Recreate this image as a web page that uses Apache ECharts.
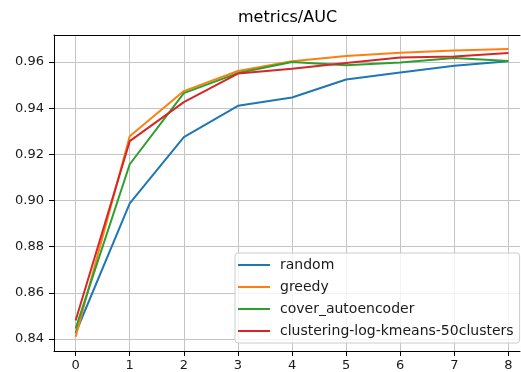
<!DOCTYPE html>
<html>
<head>
<meta charset="utf-8">
<script src="https://cdn.jsdelivr.net/npm/echarts@6/dist/echarts.min.js"></script>
<style>
  html, body { margin: 0; padding: 0; background: #fff; }
  #chart { width: 521px; height: 372px; }
</style>
</head>
<body>
<div id="chart"></div>
<script>
const steps = [0, 1, 2, 3, 4, 5, 6, 7, 8];
const seriesNames = ['random', 'greedy', 'cover_autoencoder', 'clustering-log-kmeans-50clusters'];
const randomAuc = [0.8426, 0.8988, 0.9275, 0.9410, 0.9446, 0.9524, 0.9555, 0.9584, 0.9603];
const greedyAuc = [0.8410, 0.9278, 0.9474, 0.9561, 0.9603, 0.9626, 0.9640, 0.9650, 0.9656];
const coverAuc = [0.8445, 0.9157, 0.9465, 0.9552, 0.9600, 0.9586, 0.9598, 0.9617, 0.9604];
const clusteringAuc = [0.8480, 0.9257, 0.9426, 0.9550, 0.9571, 0.9596, 0.9620, 0.9624, 0.9639];
const colors = ['#1f77b4', '#ff7f0e', '#2ca02c', '#d62728'];

const font = 'DejaVu Sans';
const gridColor = '#c4c4c4';
// the reference axes run past the right edge of the picture
const xMin = -0.4;
const xMax = 8.214;

function pairs(values) {
    return steps.map((s, i) => [s, values[i]]);
}

document.addEventListener("DOMContentLoaded", function () {
    const chart = echarts.init(document.getElementById('chart'), null, { renderer: 'canvas' });

    const allValues = [randomAuc, greedyAuc, coverAuc, clusteringAuc];
    const series = allValues.map((vals, i) => ({
        type: 'line',
        name: seriesNames[i],
        data: pairs(vals),
        symbol: 'none',
        lineStyle: { width: 2, color: colors[i] },
        itemStyle: { color: colors[i] },
    }));

    const option = {
        animation: false,
        title: {
            text: 'metrics/AUC',
            left: 238,
            top: 8,
            padding: 0,
            textStyle: { fontFamily: font, fontSize: 16, fontWeight: 'normal', color: '#000', lineHeight: 20 },
        },
        grid: {
            left: 54,
            right: 1,
            top: 35,
            bottom: 21,
        },
        xAxis: [
            {
                type: 'value',
                min: xMin,
                max: xMax,
                splitNumber: 9,
                axisLine: { show: true, onZero: false, lineStyle: { color: '#000', width: 1 } },
                axisTick: { show: true, inside: false, length: 5, lineStyle: { color: '#000' } },
                axisLabel: {
                    showMinLabel: false, showMaxLabel: false, margin: 8,
                    fontFamily: font, fontSize: 13, color: '#1a1a1a',
                    formatter: v => String(v),
                },
                splitLine: {
                    show: true, showMinLine: false, showMaxLine: false,
                    lineStyle: { color: gridColor, width: 1 },
                },
            },
            {
                // top spine only
                type: 'value',
                position: 'top',
                min: xMin,
                max: xMax,
                axisLine: { show: true, onZero: false, lineStyle: { color: '#000', width: 1 } },
                axisTick: { show: false },
                axisLabel: { show: false },
                splitLine: { show: false },
            },
        ],
        yAxis: {
            type: 'value',
            min: 0.8348,
            max: 0.9717,
            splitNumber: 7,
            axisLine: { show: true, onZero: false, lineStyle: { color: '#000', width: 1 } },
            axisTick: { show: true, inside: false, length: 5, lineStyle: { color: '#000' } },
            axisLabel: {
                showMinLabel: false, showMaxLabel: false, margin: 10,
                fontFamily: font, fontSize: 13, color: '#1a1a1a',
                formatter: v => v.toFixed(2),
            },
            splitLine: {
                show: true, showMinLine: false, showMaxLine: false,
                lineStyle: { color: gridColor, width: 1 },
            },
        },
        legend: {
            orient: 'vertical',
            left: 235,
            top: 253,
            data: seriesNames,
            icon: 'rect',
            itemWidth: 32,
            itemHeight: 2,
            itemGap: 6,
            padding: [4, 6, 4, 3],
            backgroundColor: 'rgba(255,255,255,0.8)',
            borderColor: '#cccccc',
            borderWidth: 1,
            borderRadius: 3,
            textStyle: { fontFamily: font, fontSize: 14, color: '#1a1a1a', lineHeight: 16, padding: [0, 0, 0, 5] },
        },
        series: series,
    };
    chart.setOption(option);
});
</script>
</body>
</html>
